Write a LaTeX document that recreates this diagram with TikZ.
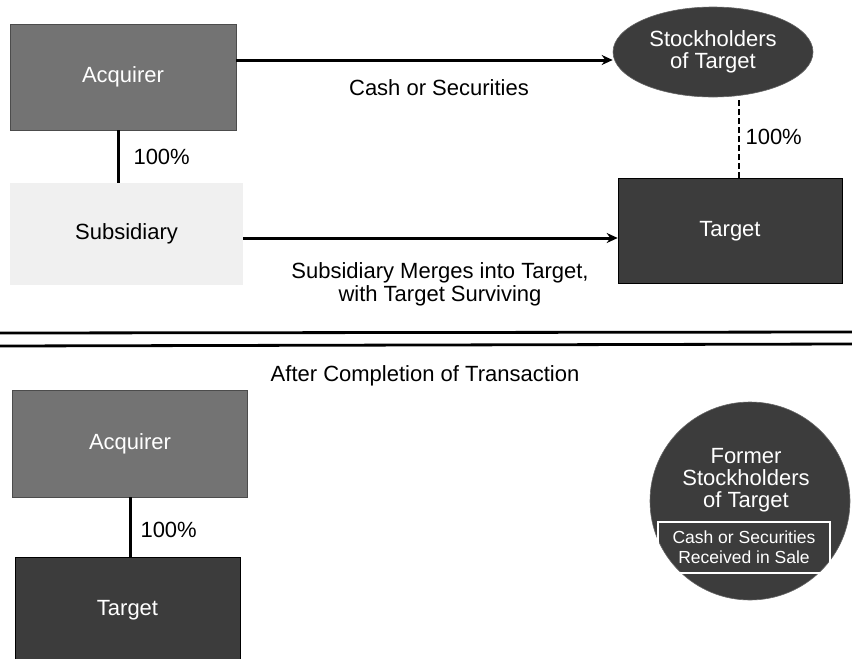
\documentclass[tikz,border=0pt]{standalone}
\usepackage{fontspec}
\setmainfont{Liberation Sans}
\usetikzlibrary{shapes.geometric,arrows.meta}
\definecolor{midgray}{HTML}{737373}
\definecolor{darkgray2}{HTML}{3C3C3C}
\definecolor{lightgray2}{HTML}{F0F0F0}
\tikzset{
  lbl/.style={font=\fontsize{22}{26}\selectfont, text=black, align=center},
  wlbl/.style={font=\fontsize{22}{26}\selectfont, text=white, align=center},
  acqbox/.style={rectangle, fill=midgray, draw=black!70, line width=0.6pt, wlbl},
  tgtbox/.style={rectangle, fill=darkgray2, draw=black, line width=0.6pt, wlbl},
  subbox/.style={rectangle, fill=lightgray2, draw=none, lbl},
  darkell/.style={ellipse, fill=darkgray2, draw=black!60, line width=0.6pt, wlbl, inner sep=0pt},
  conn/.style={line width=3pt, black},
  arr/.style={line width=3pt, black, -{Stealth[length=11pt,width=10pt]}},
  dashconn/.style={line width=1.6pt, black, dash pattern=on 6pt off 3pt},
  sep/.style={line width=2.8pt, black}
}
\begin{document}
\begin{tikzpicture}[x=1pt,y=-1pt]
\useasboundingbox (0,0) rectangle (852,659);
% top section
\node[acqbox, minimum width=226pt, minimum height=106pt] (acq) at (123,77) {Acquirer};
\node[subbox, minimum width=233pt, minimum height=102pt] (sub) at (126.5,234) {Subsidiary};
\node[tgtbox, minimum width=224pt, minimum height=105pt] (tgt) at (730,231) {Target};
\node[darkell, minimum width=200pt, minimum height=90pt] (stk) at (713,52) {Stockholders\\[-4pt]of Target};
\draw[arr] ([yshift=17pt]acq.east) -- ([yshift=-8pt]stk.west);
\draw[arr] ([yshift=-4pt]sub.east) -- ([yshift=-7pt]tgt.west);
\draw[conn] ([xshift=-5pt]acq.south) -- ([xshift=-5pt]acq.south |- sub.north);
\draw[dashconn] ([xshift=9pt]tgt.north) -- ([xshift=9pt]tgt.north |- stk.south);
\node[lbl, anchor=west] (p1) at (130,157) {100\%};
\node[lbl, anchor=west] (p2) at (742,137) {100\%};
\node[lbl] (cash) at (439,88) {Cash or Securities};
\node[lbl] (merge) at (440,284) {Subsidiary Merges into Target,\\[-3pt]with Target Surviving};
% separator
\coordinate (s1l) at (0,333); \coordinate (s1r) at (852,332);
\coordinate (s2l) at (0,346); \coordinate (s2r) at (852,344);
\draw[sep] (s1l) -- (s1r);
\draw[sep] (s2l) -- (s2r);
\node[lbl] (after) at (425,376) {After Completion of Transaction};
% bottom section
\node[acqbox, minimum width=235pt, minimum height=107pt] (acq2) at (130,443.5) {Acquirer};
\node[tgtbox, minimum width=225pt, minimum height=106pt] (tgt2) at (127.5,610) {Target};
\draw[conn] (acq2.south) -- (acq2.south |- tgt2.north);
\node[lbl, anchor=west] (p3) at (137,530) {100\%};
\node[darkell, minimum width=200pt, minimum height=198pt] (former) at (750,501) {};
\node[wlbl] (formertxt) at (746,480) {Former\\[-4pt]Stockholders\\[-4pt]of Target};
\node[rectangle, draw=white, line width=1.2pt, minimum width=172pt, minimum height=51pt,
      font=\fontsize{17.5}{20}\selectfont, text=white, align=center, inner sep=1pt] (recv) at (744,547.5)
      {Cash or Securities\\Received in Sale};
\end{tikzpicture}
\end{document}
